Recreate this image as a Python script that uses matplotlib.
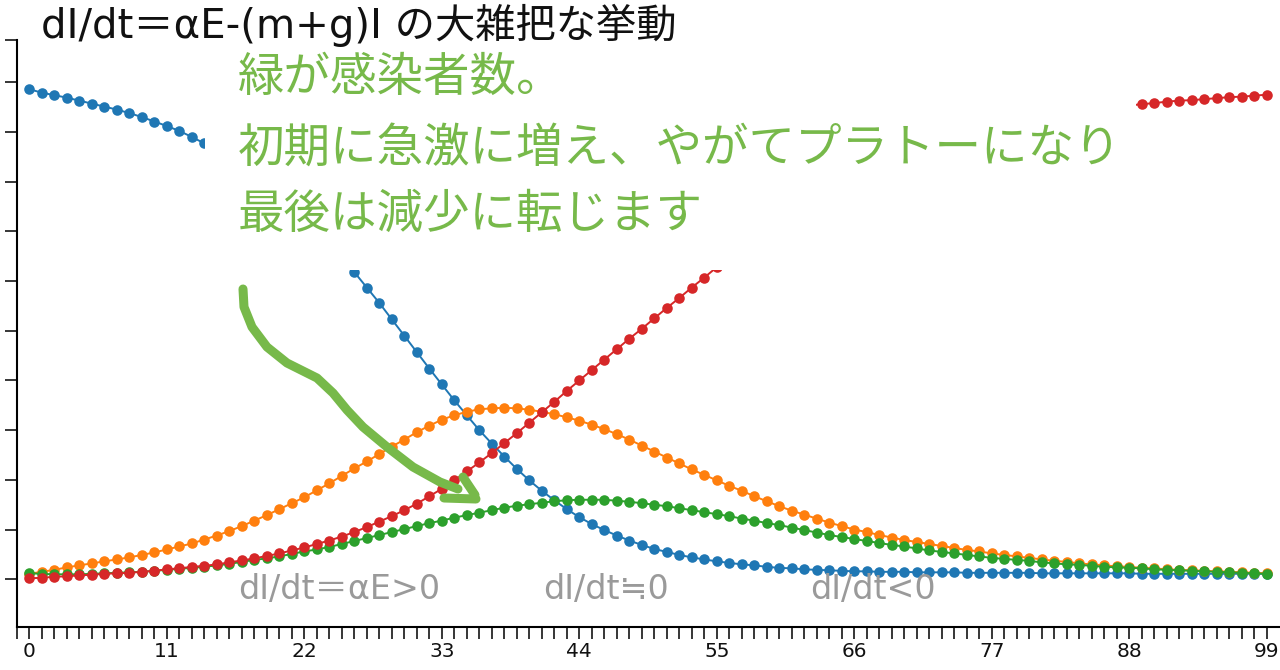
import matplotlib
matplotlib.use("Agg")
import matplotlib.pyplot as plt
from matplotlib.patches import Rectangle
from matplotlib.lines import Line2D

plt.rcParams['font.family'] = ['Noto Sans CJK JP', 'DejaVu Sans']

days = list(range(100))

S = [0.986, 0.979, 0.974, 0.969, 0.963, 0.957, 0.951, 0.945, 0.938, 0.930,
     0.921, 0.912, 0.902, 0.890, 0.877, 0.864, 0.850, 0.834, 0.816, 0.796,
     0.775, 0.752, 0.728, 0.702, 0.675, 0.647, 0.618, 0.587, 0.556, 0.523,
     0.490, 0.457, 0.424, 0.392, 0.360, 0.330, 0.300, 0.273, 0.247, 0.222,
     0.199, 0.178, 0.159, 0.141, 0.125, 0.111, 0.099, 0.088, 0.078, 0.069,
     0.061, 0.055, 0.049, 0.044, 0.040, 0.036, 0.033, 0.030, 0.028, 0.025,
     0.023, 0.022, 0.020, 0.019, 0.018, 0.017, 0.016, 0.016, 0.015, 0.015,
     0.015, 0.014, 0.014, 0.014, 0.014, 0.013, 0.013, 0.013, 0.013, 0.013,
     0.013, 0.012, 0.012, 0.012, 0.012, 0.012, 0.012, 0.012, 0.012, 0.011,
     0.011, 0.011, 0.011, 0.011, 0.011, 0.011, 0.011, 0.011, 0.011, 0.011]

E = [0.011, 0.015, 0.019, 0.024, 0.028, 0.032, 0.036, 0.040, 0.044, 0.049,
     0.054, 0.060, 0.066, 0.072, 0.080, 0.088, 0.097, 0.107, 0.118, 0.129,
     0.141, 0.153, 0.165, 0.179, 0.193, 0.208, 0.223, 0.237, 0.252, 0.267,
     0.281, 0.296, 0.309, 0.321, 0.330, 0.337, 0.342, 0.344, 0.345, 0.344,
     0.341, 0.337, 0.332, 0.326, 0.319, 0.311, 0.302, 0.292, 0.281, 0.269,
     0.257, 0.245, 0.233, 0.221, 0.210, 0.199, 0.188, 0.178, 0.167, 0.157,
     0.147, 0.138, 0.130, 0.122, 0.114, 0.107, 0.100, 0.095, 0.089, 0.084,
     0.079, 0.075, 0.071, 0.067, 0.063, 0.059, 0.056, 0.052, 0.049, 0.046,
     0.043, 0.040, 0.037, 0.035, 0.032, 0.030, 0.028, 0.026, 0.025, 0.023,
     0.022, 0.020, 0.019, 0.018, 0.017, 0.016, 0.015, 0.014, 0.013, 0.012]

I = [0.012, 0.011, 0.010, 0.010, 0.010, 0.011, 0.012, 0.013, 0.014, 0.015,
     0.017, 0.019, 0.021, 0.023, 0.025, 0.028, 0.031, 0.035, 0.039, 0.042,
     0.046, 0.051, 0.056, 0.060, 0.065, 0.071, 0.077, 0.083, 0.089, 0.095,
     0.101, 0.107, 0.113, 0.118, 0.124, 0.129, 0.134, 0.139, 0.144, 0.148,
     0.151, 0.154, 0.157, 0.159, 0.160, 0.160, 0.160, 0.158, 0.156, 0.153,
     0.150, 0.147, 0.143, 0.139, 0.135, 0.131, 0.127, 0.122, 0.118, 0.113,
     0.109, 0.104, 0.099, 0.094, 0.089, 0.085, 0.081, 0.077, 0.073, 0.069,
     0.066, 0.062, 0.058, 0.055, 0.052, 0.049, 0.046, 0.043, 0.041, 0.039,
     0.037, 0.034, 0.032, 0.030, 0.029, 0.027, 0.025, 0.024, 0.023, 0.022,
     0.020, 0.019, 0.018, 0.017, 0.016, 0.015, 0.014, 0.013, 0.012, 0.011]

R = [0.002, 0.003, 0.005, 0.006, 0.008, 0.009, 0.011, 0.012, 0.013, 0.015,
     0.017, 0.020, 0.022, 0.025, 0.027, 0.030, 0.034, 0.038, 0.042, 0.047,
     0.052, 0.058, 0.064, 0.071, 0.078, 0.086, 0.095, 0.105, 0.116, 0.127,
     0.139, 0.152, 0.167, 0.182, 0.199, 0.217, 0.235, 0.254, 0.274, 0.294,
     0.315, 0.336, 0.357, 0.379, 0.400, 0.421, 0.442, 0.463, 0.484, 0.504,
     0.525, 0.546, 0.566, 0.587, 0.607, 0.628, 0.648, 0.667, 0.685, 0.703,
     0.720, 0.736, 0.752, 0.767, 0.781, 0.795, 0.808, 0.820, 0.831, 0.842,
     0.852, 0.861, 0.870, 0.878, 0.886, 0.893, 0.900, 0.906, 0.912, 0.918,
     0.923, 0.928, 0.932, 0.936, 0.940, 0.944, 0.947, 0.950, 0.953, 0.956,
     0.958, 0.961, 0.963, 0.964, 0.966, 0.968, 0.970, 0.971, 0.973, 0.975]

series = [S, E, I, R]
colors = ['#1f77b4', '#ff7f0e', '#2ca02c', '#d62728']

x_labels_at = list(range(0, 100, 11))
y_ticks = [i / 10 for i in range(11)]

title = "dI/dt＝αE-(m+g)I の大雑把な挙動"
note_lines = ["緑が感染者数。", "初期に急激に増え、やがてプラトーになり", "最後は減少に転じます"]
phase_labels = ["dI/dt＝αE>0", "dI/dt≒0", "dI/dt<0"]

W, H = 1280, 670
fig = plt.figure(figsize=(W / 100, H / 100), dpi=100)
fig.patch.set_facecolor('white')

def fx(px):
    return px / W

def fy(py):
    return 1 - py / H

latin_first = ['DejaVu Sans', 'Noto Sans CJK JP']

ax = fig.add_axes([fx(16.8), fy(626.5), 1262.5 / W, 586.5 / H])
for ys, c in zip(series, colors):
    ax.plot(days, ys, color=c, lw=1.4, marker='o', markersize=7.6,
            markeredgewidth=0, clip_on=False)

ax.set_xlim(-1, 100)
ax.set_ylim(-0.095, 1.085)
for s in ['top', 'right']:
    ax.spines[s].set_visible(False)
for s in ['left', 'bottom']:
    ax.spines[s].set_linewidth(1.5)
    ax.spines[s].set_color('black')

ax.set_xticks(list(range(-1, 100)))
ax.set_xticklabels([str(t) if t in x_labels_at else '' for t in range(-1, 100)])
for lab in ax.get_xticklabels():
    lab.set_family(latin_first)
ax.set_yticks(y_ticks + [1.085])
ax.tick_params(axis='y', labelleft=False, length=8.5, width=1.1, direction='out')
ax.tick_params(axis='x', length=8.5, width=1.1, direction='out', labelsize=14.5,
               pad=3, labelcolor='#111111')

# white overlay box hiding part of the plot (slide annotation area)
box = Rectangle((fx(205), fy(270)), (1136 - 205) / W, (270 - 45) / H,
                transform=fig.transFigure, facecolor='white', edgecolor='none',
                zorder=5)
fig.patches.append(box)

green = '#77b94a'
fig.text(fx(41), fy(25), title, fontsize=29, color='#111111', va='center',
         ha='left', zorder=10, family=latin_first)
for txt, yy in zip(note_lines, [78, 148, 215]):
    fig.text(fx(238), fy(yy), txt, fontsize=33.5, color=green, va='center',
             ha='left', zorder=10)

for txt, xx in zip(phase_labels, [238, 543, 810]):
    fig.text(fx(xx), fy(590), txt, fontsize=24, color='#9a9a9a', va='center',
             ha='left', zorder=10, family=latin_first)

# hand-drawn arrow
arrow_px = [(243, 289), (244, 307), (252, 327), (267, 347), (287, 363),
            (317, 378), (333, 393), (347, 410), (363, 427), (387, 447),
            (413, 467), (440, 482), (458, 489)]
fig.add_artist(Line2D([fx(p[0]) for p in arrow_px], [fy(p[1]) for p in arrow_px],
                      transform=fig.transFigure, color=green, lw=6.5,
                      solid_capstyle='round', solid_joinstyle='round', zorder=10))
head1 = [(463, 477), (475, 495)]
head2 = [(444, 498), (476, 499)]
for hd in (head1, head2):
    fig.add_artist(Line2D([fx(p[0]) for p in hd], [fy(p[1]) for p in hd],
                          transform=fig.transFigure, color=green, lw=6.5,
                          solid_capstyle='round', zorder=10))

fig.savefig('out.png', dpi=100, facecolor='white')
